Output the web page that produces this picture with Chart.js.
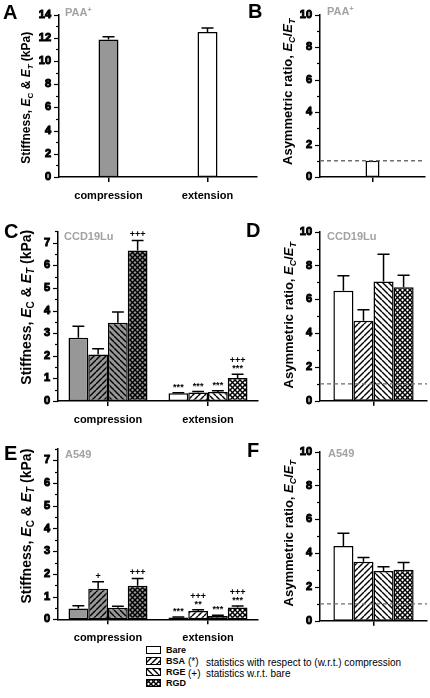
<!DOCTYPE html>
<html><head><meta charset="utf-8">
<script src="https://cdn.jsdelivr.net/npm/chart.js@4.4.1/dist/chart.umd.min.js"></script>
<style>
html,body{margin:0;padding:0;background:#fff;}
body{width:430px;height:698px;position:relative;overflow:hidden;font-family:"Liberation Sans",Arial,Helvetica,sans-serif;}
canvas.cv{position:absolute;}
.pl{position:absolute;font-weight:bold;font-size:20px;line-height:20px;color:#000;}
.cl{position:absolute;font-weight:bold;font-size:11px;line-height:11px;color:#a3a3a3;white-space:nowrap;}
.cl sup{font-size:7px;vertical-align:4px;line-height:0;}
.lg{position:absolute;font-size:9px;line-height:9px;font-weight:bold;white-space:nowrap;}
.lt{position:absolute;font-size:10px;line-height:10px;white-space:nowrap;}
canvas.sw{position:absolute;}
</style></head><body>

<canvas id="cA" class="cv" width="265" height="210" style="left:0;top:0"></canvas>
<canvas id="cB" class="cv" width="210" height="210" style="left:220px;top:0"></canvas>
<canvas id="cC" class="cv" width="265" height="220" style="left:0;top:210px"></canvas>
<canvas id="cD" class="cv" width="210" height="220" style="left:220px;top:210px"></canvas>
<canvas id="cE" class="cv" width="265" height="215" style="left:0;top:430px"></canvas>
<canvas id="cF" class="cv" width="210" height="215" style="left:220px;top:430px"></canvas>

<div class="pl" style="left:3px;top:2px">A</div>
<div class="pl" style="left:248px;top:1px">B</div>
<div class="pl" style="left:4px;top:221px">C</div>
<div class="pl" style="left:246px;top:220px">D</div>
<div class="pl" style="left:4px;top:443px">E</div>
<div class="pl" style="left:247px;top:440px">F</div>

<div class="cl" style="left:65px;top:7px">PAA<sup>+</sup></div>
<div class="cl" style="left:327px;top:6px">PAA<sup>+</sup></div>
<div class="cl" style="left:64px;top:231px">CCD19Lu</div>
<div class="cl" style="left:327px;top:231px">CCD19Lu</div>
<div class="cl" style="left:65px;top:449px">A549</div>
<div class="cl" style="left:328px;top:448px">A549</div>

<canvas id="sw0" class="sw" width="15" height="8" style="left:146px;top:646px"></canvas>
<canvas id="sw1" class="sw" width="15" height="8" style="left:146px;top:657px"></canvas>
<canvas id="sw2" class="sw" width="15" height="8" style="left:146px;top:668px"></canvas>
<canvas id="sw3" class="sw" width="15" height="8" style="left:146px;top:679px"></canvas>
<div class="lg" id="lg0" style="left:166px;top:646px"></div>
<div class="lg" id="lg1" style="left:166px;top:657px"></div>
<div class="lg" id="lg2" style="left:166px;top:668px"></div>
<div class="lg" id="lg3" style="left:166px;top:679px"></div>
<div class="lt" style="left:188px;top:657px">(*)</div>
<div class="lt" style="left:206px;top:658px">statistics with respect to (w.r.t.) compression</div>
<div class="lt" style="left:188px;top:669px">(+)</div>
<div class="lt" style="left:206px;top:669px">statistics w.r.t. bare</div>

<script>
// ---------------- data ----------------
const categories = ['compression', 'extension'];
const surfaces = ['Bare', 'BSA', 'RGE', 'RGD'];

// PAA+ (panels A, B)
const paaStiffness = [11.85, 12.5];
const paaStiffnessErr = [0.25, 0.35];
const paaRatio = [1.0];
const paaRatioErr = [0];

// CCD19Lu (panels C, D)
const ccdCompression = [2.8, 2.06, 3.46, 6.66];
const ccdCompressionErr = [0.51, 0.25, 0.48, 0.44];
const ccdExtension = [0.34, 0.38, 0.40, 1.02];
const ccdExtensionErr = [0.03, 0.04, 0.05, 0.16];
const ccdCompressionSig = ['', '', '', '+++'];
const ccdExtensionSig = ['***', '***', '***', '+++|***'];
const ccdRatio = [6.5, 4.73, 7.05, 6.72];
const ccdRatioErr = [0.9, 0.65, 1.62, 0.7];

// A549 (panels E, F)
const a549Compression = [0.48, 1.35, 0.51, 1.48];
const a549CompressionErr = [0.12, 0.3, 0.07, 0.32];
const a549Extension = [0.08, 0.37, 0.14, 0.52];
const a549ExtensionErr = [0.02, 0.05, 0.04, 0.07];
const a549CompressionSig = ['', '+', '', '+++'];
const a549ExtensionSig = ['***', '+++|**', '***', '+++|***'];
const a549Ratio = [4.42, 3.49, 2.94, 3.02];
const a549RatioErr = [0.75, 0.25, 0.25, 0.42];

const ratioReference = 1;
const stiffnessTitle = [{t:'Stiffness, '},{t:'E',i:1},{t:'C',s:1},{t:' & '},{t:'E',i:1},{t:'T',s:1,i:1},{t:' (kPa)'}];
const ratioTitle = [{t:'Asymmetric ratio, '},{t:'E',i:1},{t:'C',s:1,i:1},{t:'/'},{t:'E',i:1},{t:'T',s:1,i:1}];

// ---------------- styling helpers ----------------
const FONT = "'Liberation Sans', Arial, Helvetica, sans-serif";
const GRAY = '#979797';
const WHITE = '#ffffff';
Chart.defaults.color = '#000';
Chart.defaults.font.family = FONT;

function makePattern(kind, bg) {
  if (kind === 'Bare') return bg;
  const s = kind === 'RGD' ? 5 : 6;
  const c = document.createElement('canvas'); c.width = s; c.height = s;
  const g = c.getContext('2d');
  g.fillStyle = bg; g.fillRect(0, 0, s, s);
  g.strokeStyle = '#000'; g.lineWidth = 1.4;
  const fwd = () => { for (const o of [-s, 0, s]) { g.beginPath(); g.moveTo(o, s); g.lineTo(o + s, 0); g.stroke(); } };
  const back = () => { for (const o of [-s, 0, s]) { g.beginPath(); g.moveTo(o, 0); g.lineTo(o + s, s); g.stroke(); } };
  if (kind === 'BSA') fwd(); else if (kind === 'RGE') back(); else { fwd(); back(); }
  return g.createPattern(c, 'repeat');
}

function drawRich(ctx, segs, x, cy, size) {
  ctx.save();
  ctx.translate(x, cy);
  ctx.rotate(-Math.PI / 2);
  ctx.textBaseline = 'middle';
  ctx.textAlign = 'left';
  ctx.fillStyle = '#000';
  const fontOf = s => (s.i ? 'italic ' : '') + 'bold ' + (s.s ? Math.round(size * 0.68) : size) + 'px ' + FONT;
  let total = 0; const ws = [];
  for (const s of segs) { ctx.font = fontOf(s); const w = ctx.measureText(s.t).width; ws.push(w); total += w; }
  let px = -total / 2;
  segs.forEach((s, k) => { ctx.font = fontOf(s); ctx.fillText(s.t, px, s.s ? size * 0.32 : 0); px += ws[k]; });
  ctx.restore();
}

function extrasPlugin(cfg) {
  return {
    id: 'extras_' + cfg.id,
    afterDatasetsDraw(chart) {
      const ctx = chart.ctx, ys = chart.scales.y, area = chart.chartArea;
      ctx.save();
      if (cfg.refLine !== undefined) {
        const y = ys.getPixelForValue(cfg.refLine);
        ctx.strokeStyle = '#6e6e6e'; ctx.lineWidth = 1.3; ctx.setLineDash([4, 3]);
        ctx.beginPath(); ctx.moveTo(area.left, y); ctx.lineTo(area.right, y); ctx.stroke();
        ctx.setLineDash([]);
      }
      chart.data.datasets.forEach((ds, i) => {
        const meta = chart.getDatasetMeta(i);
        meta.data.forEach((el, j) => {
          const err = cfg.errors && cfg.errors[i] ? cfg.errors[i][j] : 0;
          const v = ds.data[j];
          let topY = el.y;
          if (err > 0) {
            topY = ys.getPixelForValue(v + err);
            const half = el.width * 0.3;
            ctx.strokeStyle = '#000'; ctx.lineWidth = 1.5;
            ctx.beginPath(); ctx.moveTo(el.x, el.y); ctx.lineTo(el.x, topY);
            ctx.moveTo(el.x - half, topY); ctx.lineTo(el.x + half, topY); ctx.stroke();
          }
          const sig = cfg.sig && cfg.sig[i] ? cfg.sig[i][j] : '';
          if (sig) {
            const lines = sig.split('|');
            ctx.fillStyle = '#000'; ctx.font = 'bold 9px ' + FONT;
            ctx.textAlign = 'center'; ctx.textBaseline = 'alphabetic';
            for (let k = 0; k < lines.length; k++) {
              const ln = lines[lines.length - 1 - k];
              ctx.fillText(ln, el.x, topY - 3 - k * 8);
            }
          }
        });
      });
      ctx.restore();
    },
    afterDraw(chart) {
      const ctx = chart.ctx, ys = chart.scales.y, area = chart.chartArea;
      ctx.save();
      ctx.strokeStyle = '#000'; ctx.lineWidth = 1.2;
      for (const t of ys.ticks) {
        const y = Math.round(ys.getPixelForValue(t.value)) + 0.5;
        const r = t.value / cfg.major;
        const major = Math.abs(r - Math.round(r)) < 1e-6;
        const len = major ? 5 : 3;
        ctx.beginPath(); ctx.moveTo(area.left - len, y); ctx.lineTo(area.left, y); ctx.stroke();
      }
      ctx.restore();
      drawRich(ctx, cfg.title, cfg.titleX, (area.top + area.bottom) / 2 + (cfg.titleDy || 0), cfg.titleSize);
    }
  };
}

function buildChart(cfg) {
  const el = document.getElementById(cfg.id);
  return new Chart(el, {
    type: 'bar',
    data: { labels: cfg.labels, datasets: cfg.datasets },
    options: {
      responsive: false, animation: false, devicePixelRatio: 1,
      layout: { padding: { left: 0, top: cfg.padT, right: cfg.padR, bottom: 0 } },
      plugins: { legend: { display: false }, tooltip: { enabled: false } },
      datasets: { bar: { categoryPercentage: cfg.catPct, barPercentage: 1, borderWidth: 1.5, borderColor: '#000', borderSkipped: false } },
      scales: {
        x: {
          type: 'category', offset: true,
          grid: { display: true, drawOnChartArea: false, offset: false, drawTicks: true, tickLength: 5, color: '#000', lineWidth: 1.5 },
          border: { display: true, color: '#000', width: 1.5 },
          ticks: { color: '#000', font: { family: FONT, size: 11, weight: 'bold' }, padding: 7, maxRotation: 0, autoSkip: false },
          afterFit: s => { s.height = cfg.xh; }
        },
        y: {
          min: 0, max: cfg.ymax,
          grid: { display: false, drawTicks: false },
          border: { display: true, color: '#000', width: 1.5 },
          ticks: {
            stepSize: cfg.minor, autoSkip: false, padding: 8, color: '#000',
            textStrokeColor: '#000', textStrokeWidth: 1,
            font: { family: FONT, size: 11, weight: 'bold' },
            callback: v => { const r = v / cfg.major; return Math.abs(r - Math.round(r)) < 1e-6 ? String(v) : ''; }
          },
          afterFit: s => { s.width = cfg.yw; }
        }
      }
    },
    plugins: [extrasPlugin(cfg)]
  });
}

// ---------------- panels ----------------
const stiffnessDatasets = (comp, ext) => surfaces.map((s, i) => ({
  label: s, data: [comp[i], ext[i]], backgroundColor: [makePattern(s, GRAY), makePattern(s, WHITE)]
}));
const ratioDatasets = (vals) => surfaces.map((s, i) => ({
  label: s, data: [vals[i]], backgroundColor: makePattern(s, WHITE)
}));

buildChart({ id: 'cA', labels: categories, padT: 7.5, padR: 8, yw: 59, xh: 33, ymax: 14, major: 2, minor: 1, catPct: 0.202,
  datasets: [{ label: 'PAA+', data: paaStiffness, backgroundColor: [GRAY, WHITE] }],
  errors: [paaStiffnessErr], title: stiffnessTitle, titleX: 27, titleSize: 12, titleDy: 2 });

buildChart({ id: 'cB', labels: [''], padT: 7, padR: 5, yw: 100, xh: 33, ymax: 10, major: 2, minor: 1, catPct: 0.133,
  datasets: [{ label: 'PAA+', data: paaRatio, backgroundColor: WHITE }],
  errors: [paaRatioErr], refLine: ratioReference, title: ratioTitle, titleX: 68, titleSize: 13, titleDy: -4 });

buildChart({ id: 'cC', labels: categories, padT: 21.4, padR: 7, yw: 58, xh: 29, ymax: 7.5, major: 1, minor: 0.5, catPct: 0.79,
  datasets: stiffnessDatasets(ccdCompression, ccdExtension),
  errors: surfaces.map((s, i) => [ccdCompressionErr[i], ccdExtensionErr[i]]),
  sig: surfaces.map((s, i) => [ccdCompressionSig[i], ccdExtensionSig[i]]),
  title: stiffnessTitle, titleX: 27, titleSize: 14, titleDy: -9 });

buildChart({ id: 'cD', labels: [''], padT: 21.7, padR: 3, yw: 100, xh: 29.3, ymax: 10, major: 2, minor: 1, catPct: 0.75,
  datasets: ratioDatasets(ccdRatio), errors: surfaces.map((s, i) => [ccdRatioErr[i]]),
  refLine: ratioReference, title: ratioTitle, titleX: 69, titleSize: 13, titleDy: -1 });

buildChart({ id: 'cE', labels: categories, padT: 19, padR: 7, yw: 58, xh: 25.7, ymax: 7.5, major: 1, minor: 0.5, catPct: 0.79,
  datasets: stiffnessDatasets(a549Compression, a549Extension),
  errors: surfaces.map((s, i) => [a549CompressionErr[i], a549ExtensionErr[i]]),
  sig: surfaces.map((s, i) => [a549CompressionSig[i], a549ExtensionSig[i]]),
  title: stiffnessTitle, titleX: 27, titleSize: 14, titleDy: -8 });

buildChart({ id: 'cF', labels: [''], padT: 21.7, padR: 3, yw: 100, xh: 24.3, ymax: 10, major: 2, minor: 1, catPct: 0.75,
  datasets: ratioDatasets(a549Ratio), errors: surfaces.map((s, i) => [a549RatioErr[i]]),
  refLine: ratioReference, title: ratioTitle, titleX: 69, titleSize: 13, titleDy: -3 });

// ---------------- legend ----------------
surfaces.forEach((s, i) => {
  document.getElementById('lg' + i).textContent = s;
  const c = document.getElementById('sw' + i), g = c.getContext('2d');
  g.fillStyle = makePattern(s, WHITE); g.fillRect(0, 0, 15, 8);
  g.strokeStyle = '#000'; g.lineWidth = 1; g.strokeRect(0.5, 0.5, 14, 7);
});
</script>
</body></html>
